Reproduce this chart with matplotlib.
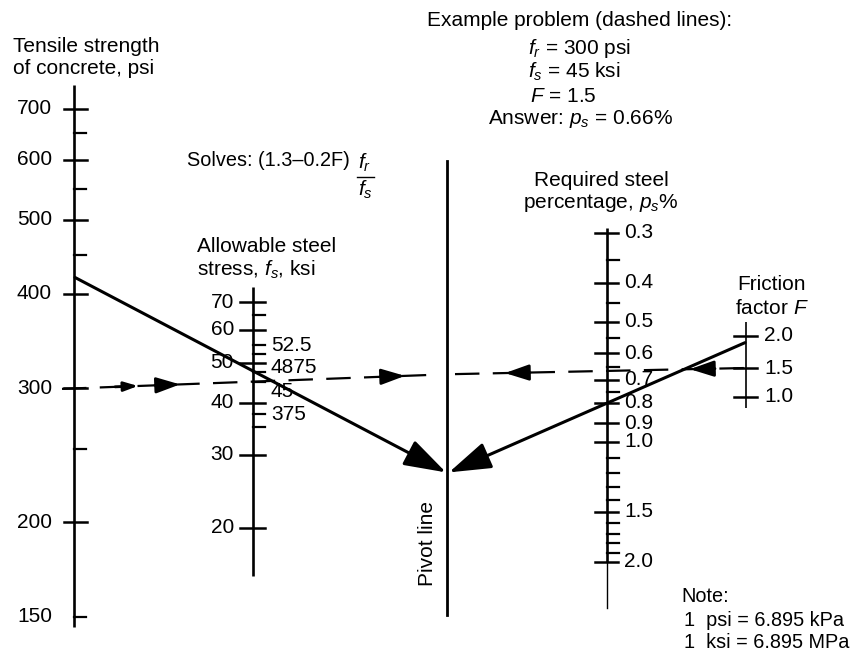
import numpy as np
import matplotlib
matplotlib.use('Agg')
import matplotlib.pyplot as plt

plt.rcParams['font.family'] = ['Liberation Sans', 'DejaVu Sans']
plt.rcParams['mathtext.fontset'] = 'custom'
plt.rcParams['mathtext.rm'] = 'Liberation Sans'
plt.rcParams['mathtext.it'] = 'Liberation Sans:italic'

# ---------------- data ----------------
fr_major = [200, 300, 400, 500, 600, 700]
fr_labels = [150, 200, 300, 400, 500, 600, 700]
fr_minor = [150, 250, 450, 550, 650]

fs_major = [20, 30, 40, 50, 60, 70]
fs_minor = [35, 37.5, 45, 47.5, 52.5, 55, 65]
fs_right_values = [55, 48.75, 42.5, 37.5]
fs_right_labels = ['52.5', '4875', '45', '375']

ps_major = [0.3, 0.4, 0.5, 0.6, 0.7, 0.8, 0.9, 1.0, 1.5, 2.0]
ps_labels = ['0.3', '0.4', '0.5', '0.6', '0.7', '0.8', '0.9', '1.0', '1.5', '2.0']
ps_minor = [0.35, 0.45, 0.55, 0.65, 0.75, 1.1, 1.2, 1.3, 1.4, 1.6, 1.7, 1.8, 1.9]

F_major = [1.0, 1.5, 2.0]
F_labels = ['1.0', '1.5', '2.0']

dashed_fr, dashed_fs, dashed_F = 300, 45, 1.5
solid_fr, solid_ps, solid_F = 420, 0.8, 1.9

# ---------------- scales (pixel layout) ----------------
X_FR, X_FS, X_PIV, X_PS, X_F = 74, 253, 447, 607, 746


def y_fr(v):
    return 109 + (617 - 109) * np.log10(700 / np.asarray(v)) / np.log10(700 / 150)


def y_fs(v):
    return 302 + 415 * np.log10(70 / np.asarray(v))


def y_ps(v):
    return 233 + 399 * np.log10(np.asarray(v) / 0.3)


def y_F(v):
    return 368 + 700 * np.log10(1.3 - 0.2 * np.asarray(v))


fig = plt.figure(figsize=(8.53, 6.58), dpi=100)
ax = fig.add_axes([0, 0, 1, 1])
ax.set_xlim(0, 853)
ax.set_ylim(658, 0)
ax.axis('off')

K = 'black'
FS = 15
AXLW = 1.9


def draw_scale(x, ytop, ybot, major, minor, yfun, lw=AXLW, left=11, right=12, mright=12):
    ax.plot([x, x], [ytop, ybot], color=K, lw=lw, solid_capstyle='butt')
    for v in major:
        y = yfun(v)
        ax.plot([x - left, x + right], [y, y], color=K, lw=1.8)
    for v in minor:
        y = yfun(v)
        ax.plot([x, x + mright], [y, y], color=K, lw=1.6)


# tensile strength scale
draw_scale(X_FR, 85, 627, fr_major, fr_minor, y_fr, left=10, right=13)
for v in fr_labels:
    ax.text(52, y_fr(v), str(v), ha='right', va='center', fontsize=FS)
ax.text(13, 47, 'Tensile strength', ha='left', va='center', fontsize=FS)
ax.text(13, 69, 'of concrete, psi', ha='left', va='center', fontsize=FS)

# allowable steel stress scale
draw_scale(X_FS, 287, 576, fs_major, fs_minor, y_fs, left=13, right=12)
for v in fs_major:
    ax.text(234, y_fs(v), str(v), ha='right', va='center', fontsize=FS)
for v, s in zip(fs_right_values, fs_right_labels):
    ax.text(271, y_fs(v), s, ha='left', va='center', fontsize=FS)
ax.text(197, 247, 'Allowable steel', ha='left', va='center', fontsize=FS)
ax.text(197, 270, r'stress, $f_s$, ksi', ha='left', va='center', fontsize=FS)

# pivot line
ax.plot([X_PIV, X_PIV], [161, 615], color=K, lw=2.0)
ax.text(428, 543, 'Pivot line', rotation=90, ha='center', va='center', fontsize=FS)

# required steel percentage scale
draw_scale(X_PS, 228, 562, ps_major, ps_minor, y_ps, left=12, right=11)
ax.plot([X_PS, X_PS], [562, 608], color=K, lw=1.0)
for v, s in zip(ps_major, ps_labels):
    ax.text(624, y_ps(v), s, ha='left', va='center', fontsize=FS)
ax.text(601, 180, 'Required steel', ha='center', va='center', fontsize=FS)
ax.text(601, 203, r'percentage, $p_s$%', ha='center', va='center', fontsize=FS)

# friction factor scale
draw_scale(X_F, 322, 408, F_major, [], y_F, lw=1.2, left=12, right=11)
for v, s in zip(F_major, F_labels):
    ax.text(764, y_F(v), s, ha='left', va='center', fontsize=FS)
ax.text(772, 285, 'Friction', ha='center', va='center', fontsize=FS)
ax.text(772, 308, r'factor $F$', ha='center', va='center', fontsize=FS)

# ---------------- example (dashed) ----------------
y1, y2 = y_fr(dashed_fr), y_fs(dashed_fs)
slope = (y2 - y1) / (X_FS - X_FR)
yp_d = y1 + slope * (X_PIV - X_FR)
yF_d = y_F(dashed_F)
ax.plot([62, X_PIV - 8], [y1 + slope * (62 - X_FR), yp_d - slope * 8],
        color=K, lw=1.6, dashes=(11, 6))
ax.plot([X_PIV + 8, X_F + 11], [yp_d + (yF_d - yp_d) * 8 / (X_F - X_PIV),
                                yF_d + (yF_d - yp_d) * 11 / (X_F - X_PIV)],
        color=K, lw=1.6, dashes=(11, 6))


def yline_d(x):
    if x < X_PIV:
        return y1 + slope * (x - X_FR)
    return yp_d + (yF_d - yp_d) * (x - X_PIV) / (X_F - X_PIV)


for xa, xb in [(115, 138), (155, 180), (380, 405), (530, 505), (715, 690)]:
    ax.annotate('', xy=(xb, yline_d(xb)), xytext=(xa, yline_d(xa)),
                arrowprops=dict(arrowstyle='-|>,head_length=1.2,head_width=0.4',
                                lw=2.0, color=K, shrinkA=0, shrinkB=0,
                                mutation_scale=12 if xa != 115 else 7))

# ---------------- example (solid) ----------------
yF_s = y_F(solid_F)
yps_s = y_ps(solid_ps)
yp_s = yF_s + (yps_s - yF_s) * (X_F - X_PIV) / (X_F - X_PS)
yfr_s = y_fr(solid_fr)
arrow = dict(arrowstyle='-|>,head_length=1.3,head_width=0.42', lw=2.2, color=K,
             shrinkA=0, shrinkB=0, mutation_scale=20)
ax.annotate('', xy=(X_PIV - 1, yp_s), xytext=(X_FR + 1, yfr_s), arrowprops=arrow)
ax.annotate('', xy=(X_PIV + 2, yp_s), xytext=(X_F - 1, yF_s), arrowprops=arrow)

# ---------------- annotations ----------------
ax.text(350, 161, 'Solves: (1.3\u20130.2F)', ha='right', va='center', fontsize=14.3)
ax.text(365, 163, r'$f_r$', ha='center', va='center', fontsize=FS)
ax.plot([357, 374], [177, 177], color=K, lw=1.0)
ax.text(365, 190, r'$f_s$', ha='center', va='center', fontsize=FS)

ax.text(427, 21, 'Example problem (dashed lines):', ha='left', va='center', fontsize=FS)
ax.text(528, 48, r'$f_r$ = 300 psi', ha='left', va='center', fontsize=FS)
ax.text(528, 72, r'$f_s$ = 45 ksi', ha='left', va='center', fontsize=FS)
ax.text(530, 96, r'$F$ = 1.5', ha='left', va='center', fontsize=FS)
ax.text(488, 119, r'Answer: $p_s$ = 0.66%', ha='left', va='center', fontsize=FS)

ax.text(681, 597, 'Note:', ha='left', va='center', fontsize=14.3)
ax.text(684, 620, '1  psi = 6.895 kPa', ha='left', va='center', fontsize=14.3)
ax.text(684, 643, '1  ksi = 6.895 MPa', ha='left', va='center', fontsize=14.3)

fig.savefig('out.png', dpi=100)
